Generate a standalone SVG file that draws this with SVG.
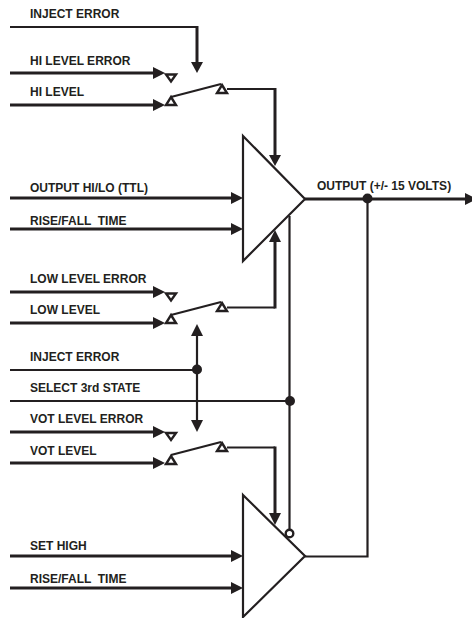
<svg xmlns="http://www.w3.org/2000/svg" width="472" height="618" viewBox="0 0 472 618">
<style>
text{font-family:"Liberation Sans",Arial,sans-serif;font-weight:700;font-size:12px;fill:#231f20}
.w{fill:none;stroke:#231f20;stroke-width:3;stroke-linejoin:miter}
.t{fill:none;stroke:#231f20;stroke-width:2.2;stroke-linejoin:miter}
.a{fill:none;stroke:#231f20;stroke-width:2.2;stroke-linejoin:miter}
.s{fill:#fff;stroke:#231f20;stroke-width:2.4}
.d{fill:#231f20}
</style>
<defs>
<polygon id="r" class="d" points="0,-6 12,0 0,6"/>
<polygon id="up" class="s" points="0,-7 5,1 -5,1"/>
<polygon id="dn" class="s" points="-5,0 5,0 0,7"/>
</defs>
<rect width="472" height="618" fill="#fff"/>
<g id="connectors">
<path class="t" d="M10 27H197"/><path class="w" d="M197 26V64"/><polygon class="d" points="191,62 203,62 197,73"/>
<path class="w" d="M10 73H155"/><use href="#r" x="153" y="73"/>
<path class="w" d="M10 105H155"/><use href="#r" x="153" y="105"/>
<path class="t" d="M171 97L221 84"/>
<path class="t" d="M227 89H275"/><path class="w" d="M275 88V158"/><polygon class="d" points="269,155 281,155 275,166"/>
<path class="w" d="M10 198H233"/><use href="#r" x="231" y="198"/>
<path class="w" d="M10 229H233"/><use href="#r" x="231" y="229"/>
<path class="w" d="M10 292H155"/><use href="#r" x="153" y="292"/>
<path class="w" d="M10 323H155"/><use href="#r" x="153" y="323"/>
<path class="t" d="M171 315L221 302"/>
<path class="t" d="M227 307.500H275"/><path class="w" d="M275 308.500V240"/><polygon class="d" points="275,230 281,242 269,242"/>
<path class="t" d="M197 334V422"/><polygon class="d" points="197,324 203,336 191,336"/><polygon class="d" points="191,420 203,420 197,432"/>
<path class="t" d="M10 370H197"/><circle class="d" cx="197" cy="369.500" r="5"/>
<path class="t" d="M10 401H290"/><circle class="d" cx="290" cy="401" r="5"/>
<path class="t" d="M289.500 216V529"/>
<path class="w" d="M10 432H155"/><use href="#r" x="153" y="432"/>
<path class="w" d="M10 463H155"/><use href="#r" x="153" y="463"/>
<path class="t" d="M171 455L221 442"/>
<path class="t" d="M227 447.500H275"/><path class="w" d="M275 446.500V516"/><polygon class="d" points="269,513 281,513 275,525"/>
<path class="w" d="M10 556H233"/><use href="#r" x="231" y="556"/>
<path class="w" d="M10 588H233"/><use href="#r" x="231" y="588"/>
<path class="t" d="M305 556.500H367.500V199"/>
<path class="w" d="M305 199H467"/><polygon class="d" points="465,193 477,199 465,205"/>
<circle class="d" cx="367.500" cy="198.500" r="5"/>
</g>
<g id="amp-main"><polygon class="a" points="243,136 305,199 243,261"/></g>
<g id="amp-third"><polygon class="a" points="243,495 305,556 243,617"/><circle class="s" cx="289.500" cy="533.500" r="3.800"/></g>
<g id="switch-hi"><use href="#dn" x="171" y="74.500"/><use href="#up" x="171" y="104"/><use href="#up" x="222" y="92"/></g>
<g id="switch-low"><use href="#dn" x="171" y="293.500"/><use href="#up" x="171" y="322"/><use href="#up" x="222" y="310"/></g>
<g id="switch-vot"><use href="#dn" x="171" y="433"/><use href="#up" x="171" y="463"/><use href="#up" x="222" y="450"/></g>
<g id="labels">
<text x="30" y="18">INJECT ERROR</text>
<text x="30" y="65">HI LEVEL ERROR</text>
<text x="30" y="96">HI LEVEL</text>
<text x="30" y="192">OUTPUT HI/LO (TTL)</text>
<text x="30" y="225" xml:space="preserve">RISE/FALL  TIME</text>
<text x="30" y="283">LOW LEVEL ERROR</text>
<text x="30" y="314">LOW LEVEL</text>
<text x="30" y="361">INJECT ERROR</text>
<text x="30" y="392">SELECT 3rd STATE</text>
<text x="30" y="423">VOT LEVEL ERROR</text>
<text x="30" y="455">VOT LEVEL</text>
<text x="30" y="550">SET HIGH</text>
<text x="30" y="583" xml:space="preserve">RISE/FALL  TIME</text>
<text x="317" y="190">OUTPUT (+/- 15 VOLTS)</text>
</g>
</svg>
